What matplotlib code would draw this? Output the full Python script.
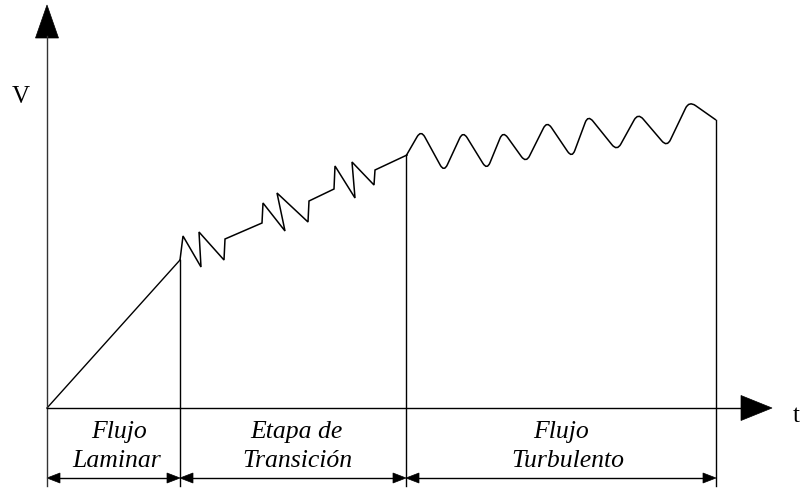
import matplotlib
matplotlib.use("Agg")
import matplotlib.pyplot as plt
from matplotlib.path import Path
from matplotlib.patches import PathPatch, Polygon
import numpy as np

# ---- data (t, v) in diagram units ----
laminar_t = [0, 133]
laminar_v = [0, 148]

transition_t = [133, 136, 154, 152, 177, 178, 215, 216, 238, 230, 261, 262,
                287, 288, 308, 305, 327, 328, 360]
transition_v = [148, 172, 141, 176, 148, 169, 185, 205, 177, 215, 186, 207,
                219, 242, 210, 246, 223, 238, 253]

turbulent_t = [359, 374, 397, 416, 440, 456, 479, 500, 525, 541, 570, 591,
               620, 642, 669]
turbulent_v = [252, 278, 236, 277, 238, 277, 245, 287, 250, 293, 257, 295,
               261, 307, 288]

stage_bounds = [0, 133, 359, 669]
stage_tops = [None, 148, 253, 288]
stage_labels = [("Flujo", "Laminar"), ("Etapa de", "Transición"),
                ("Flujo", "Turbulento")]

LW = 1.0
FONT = "Liberation Serif"

fig = plt.figure(figsize=(8.03, 4.88), dpi=100)
ax = fig.add_axes([0, 0, 1, 1])
ax.set_xlim(-47, 756)
ax.set_ylim(-80, 408)
ax.axis("off")

# laminar & transition (sharp corners)
ax.plot(laminar_t, laminar_v, color="black", lw=LW)
ax.plot(transition_t, transition_v, color="black", lw=1.1, solid_joinstyle="miter")

# turbulent (rounded corners)
def rounded_path(xs, ys, r=5.0):
    pts = np.column_stack([xs, ys]).astype(float)
    verts = [pts[0]]
    codes = [Path.MOVETO]
    for i in range(1, len(pts) - 1):
        p0, p1, p2 = pts[i - 1], pts[i], pts[i + 1]
        d1 = p0 - p1
        d2 = p2 - p1
        l1 = np.hypot(*d1)
        l2 = np.hypot(*d2)
        a = p1 + d1 / l1 * min(r, l1 * 0.4)
        b = p1 + d2 / l2 * min(r, l2 * 0.4)
        verts += [a, p1, b]
        codes += [Path.LINETO, Path.CURVE3, Path.CURVE3]
    verts.append(pts[-1])
    codes.append(Path.LINETO)
    return Path(verts, codes)

ax.add_patch(PathPatch(rounded_path(turbulent_t, turbulent_v, 8.0),
                       facecolor="none", edgecolor="black", lw=1.1))

# axes
ybase = -78
ax.plot([0, 0], [ybase, 372], color="#333333", lw=LW)
ax.add_patch(Polygon([[-11.5, 370], [11.5, 370], [0, 403]], closed=True,
                     facecolor="black", edgecolor="black", lw=0.5))
ax.plot([0, 696], [0, 0], color="black", lw=LW)
ax.add_patch(Polygon([[694, 12.5], [694, -12.5], [725, 0]], closed=True,
                     facecolor="black", edgecolor="black", lw=0.5))

ax.text(-26, 305, "V", fontsize=18, family=FONT, ha="center", va="baseline")
ax.text(749, -14, "t", fontsize=18, family=FONT, ha="center", va="baseline")

# stage boundaries
for t, top in zip(stage_bounds[1:], stage_tops[1:]):
    ax.plot([t, t], [top, ybase], color="black", lw=LW)

# dimension arrows
dv = -70
hl, hw = 13, 5
for a, b in zip(stage_bounds[:-1], stage_bounds[1:]):
    ax.plot([a + hl - 1, b - hl + 1], [dv, dv], color="black", lw=LW)
    ax.add_patch(Polygon([[a, dv], [a + hl, dv + hw], [a + hl, dv - hw]],
                         closed=True, facecolor="black", edgecolor="black", lw=0.5))
    ax.add_patch(Polygon([[b, dv], [b - hl, dv + hw], [b - hl, dv - hw]],
                         closed=True, facecolor="black", edgecolor="black", lw=0.5))

# stage labels
label_x = [(72, 70), (249, 250), (514, 521)]
for (l1, l2), (x1, x2) in zip(stage_labels, label_x):
    ax.text(x1, -30, l1, fontsize=18.5, family=FONT, style="italic",
            ha="center", va="baseline")
    ax.text(x2, -59, l2, fontsize=18.5, family=FONT, style="italic",
            ha="center", va="baseline")

fig.savefig("out.png", dpi=100, facecolor="white")
